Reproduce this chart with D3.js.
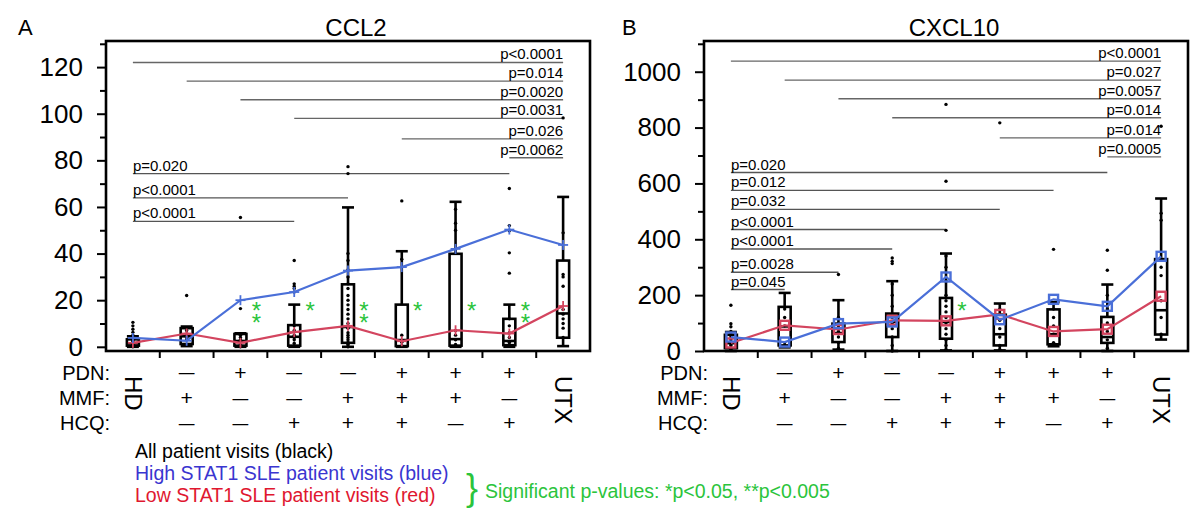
<!DOCTYPE html>
<html><head><meta charset="utf-8">
<script src="https://cdn.jsdelivr.net/npm/d3@7"></script>
<style>
body{margin:0;background:#fff;}
svg{display:block;font-family:Arial,"Liberation Sans",sans-serif;}
</style>
</head><body>
<svg id="chart" width="1200" height="517"></svg>
<script>
// ---------- data ----------
const categories = ["HD","MMF","PDN","HCQ","MMF+HCQ","PDN+MMF+HCQ","PDN+MMF","PDN+HCQ","UTX"];
const rotatedLabels = {"HD":"HD","UTX":"UTX"};
const pdnSigns = ["", "−", "+", "−", "−", "+", "+", "+", ""];
const mmfSigns = ["", "+", "−", "−", "+", "+", "+", "−", ""];
const hcqSigns = ["", "−", "−", "+", "+", "+", "−", "+", ""];
const rowLabels = ["PDN:", "MMF:", "HCQ:"];

// CCL2 : box stats [whiskerLow, q1, median, q3, whiskerHigh]
const ccl2Box = [
  [0, 0.5, 1.5, 3.2, 4.5],
  [0.3, 1.2, 4.5, 8, 8.7],
  [0, 0.5, 2.5, 5.5, 5.8],
  [0, 0.5, 4.3, 9.3, 18.1],
  [0, 1.7, 8.5, 26.8, 59.8],
  [0, 0.3, 2.9, 18.1, 41],
  [0, 0.5, 3.3, 39.9, 62.2],
  [0, 0.7, 2.5, 12, 18.1],
  [0.3, 3.9, 14.3, 37, 64.3]
];
const ccl2Points = [
  [10.5, 9, 7.5, 6.2, 5, 4, 3, 2.5, 2, 1.5, 1, 0.5, 0.2, 0],
  [22, 8, 7, 5.5, 4, 3, 1],
  [55.5, 16.4, 5, 4, 3, 2, 1, 0.5, 0],
  [37, 27, 26, 25, 23.5, 9, 7, 5, 4, 3, 1.5, 0.5],
  [77.3, 74.3, 40, 37, 33, 30, 27, 25, 22, 20, 18, 16, 14, 12, 10, 8, 6, 5, 4, 3, 2, 1, 0],
  [62.6, 37.6, 5, 2, 0.5],
  [59, 53, 50, 7, 5, 3, 1],
  [67.9, 52, 49.8, 40.3, 31.6, 12, 9, 6, 4, 2, 1, 0.5],
  [98.2, 48.9, 31, 30, 26, 16, 14, 12, 10, 8, 4]
];
const ccl2High = [3.8, 2.6, 20, 23.5, 32.7, 34.2, 42, 50.3, 43.7];
const ccl2Low  = [1.7, 5.7, 1.7, 6.3, 9, 2.4, 7.1, 5.7, 17.5];
const ccl2TopPairs = [[0, "p<0.0001", 122], [1, "p=0.014", 114], [2, "p=0.0020", 106], [3, "p=0.0031", 98], [5, "p=0.026", 89.2], [7, "p=0.0062", 81.1]];
const ccl2HdPairs  = [[7, "p=0.020", 74.3], [4, "p<0.0001", 63.9], [3, "p<0.0001", 53.8]];
const ccl2Stars = [[2, "**"], [3, "*"], [4, "**"], [5, "*"], [6, "*"], [7, "**"]];
const ccl2MajorTicks = [0, 20, 40, 60, 80, 100, 120];
const ccl2MinorTicks = [10, 30, 50, 70, 90, 110, 130];

// CXCL10
const cxcl10Box = [
  [0, 10, 28, 58, 68],
  [13, 20, 88, 158, 208],
  [5, 32, 64, 98, 182],
  [0, 50, 104, 134, 250],
  [2, 44, 104, 190, 349],
  [2, 20, 60, 130, 170],
  [17, 24, 60, 149, 175],
  [0, 29, 50, 122, 238],
  [41, 59, 146, 329, 546]
];
const cxcl10Points = [
  [164, 98, 87, 70, 60, 50, 40, 30, 25, 20, 10, 5],
  [150, 120, 90, 30, 20],
  [274, 120, 90, 70, 50, 30, 10],
  [333, 321, 313, 240, 200, 160, 120, 100, 80, 50, 20, 0],
  [883, 608, 432, 340, 300, 250, 200, 180, 160, 140, 120, 100, 80, 60, 40, 20, 5],
  [817, 150, 110, 80, 50, 20, 5],
  [364, 150, 120, 90, 60, 30],
  [361, 289, 200, 150, 100, 70, 40, 10],
  [805, 493, 468, 300, 270, 180, 120, 60]
];
const cxcl10High = [50, 32, 98, 104, 265, 112, 185, 160, 339];
const cxcl10Low  = [28.7, 92, 77, 110, 108, 131, 70, 78, 196];
const cxcl10TopPairs = [[0, "p<0.0001", 1038], [1, "p=0.027", 970], [2, "p=0.0057", 903], [3, "p=0.014", 835], [5, "p=0.014", 763], [7, "p=0.0005", 695]];
const cxcl10HdPairs  = [[7, "p=0.020", 639], [6, "p=0.012", 575], [5, "p=0.032", 507], [4, "p<0.0001", 435], [3, "p<0.0001", 365], [2, "p=0.0028", 282], [1, "p=0.045", 220]];
const cxcl10Stars = [[4, "*"]];
const cxcl10MajorTicks = [0, 200, 400, 600, 800, 1000];
const cxcl10MinorTicks = [100, 300, 500, 700, 900, 1100];

const legendLines = ["All patient visits (black)", "High STAT1 SLE patient visits (blue)", "Low STAT1 SLE patient visits (red)"];
const legendNote = "Significant p-values: *p<0.05, **p<0.005";

// ---------- styles ----------
const BLUE = "#4a6fd8", RED = "#d3455f", GREEN = "#2bc43c";

const svg = d3.select("#chart");

function drawPanel(o) {
  const g = svg.append("g");
  const x = d3.scaleBand().domain(categories).range([o.left, o.right]);
  const y = d3.scaleLinear().domain(o.domain).range([o.bottom, o.top]);
  const cx = i => x(categories[i]) + x.bandwidth() / 2;

  // panel letter and title
  g.append("text").attr("x", o.letterX).attr("y", 35).attr("font-size", 22).text(o.letter);
  g.append("text").attr("x", (o.left + o.right) / 2 + 8).attr("y", 36).attr("text-anchor", "middle")
    .attr("font-size", 24).text(o.title);

  // y axis
  const ya = g.append("g").attr("transform", `translate(${o.left},0)`)
    .call(d3.axisLeft(y).tickValues(o.major).tickSize(9).tickPadding(14).tickFormat(d3.format("d")));
  ya.select(".domain").remove();
  ya.selectAll("line").attr("stroke-width", 2);
  ya.selectAll("text").attr("font-size", 26).attr("font-family", "Arial, 'Liberation Sans', sans-serif");
  const ym = g.append("g").attr("transform", `translate(${o.left},0)`)
    .call(d3.axisLeft(y).tickValues(o.minor).tickSize(6).tickFormat(""));
  ym.select(".domain").remove();
  ym.selectAll("line").attr("stroke-width", 2);

  // x ticks between categories
  g.selectAll(".xt").data(categories.slice(1)).enter().append("line")
    .attr("x1", d => x(d)).attr("x2", d => x(d))
    .attr("y1", o.bottom).attr("y2", o.bottom + 7)
    .attr("stroke", "#000").attr("stroke-width", 2);

  // brackets
  const br = g.append("g");
  o.topPairs.forEach(([from, lab, lv]) => {
    br.append("line").attr("x1", cx(from)).attr("x2", cx(8)).attr("y1", y(lv)).attr("y2", y(lv))
      .attr("stroke", "#666").attr("stroke-width", 1.4);
    br.append("text").attr("x", cx(8)).attr("y", y(lv) - 3).attr("text-anchor", "end")
      .attr("font-size", 15).text(lab);
  });
  o.hdPairs.forEach(([to, lab, lv]) => {
    br.append("line").attr("x1", cx(0)).attr("x2", cx(to)).attr("y1", y(lv)).attr("y2", y(lv))
      .attr("stroke", "#555").attr("stroke-width", 1.4);
    br.append("text").attr("x", cx(0)).attr("y", y(lv) - 3).attr("text-anchor", "start")
      .attr("font-size", 15).text(lab);
  });

  // boxes
  const bw = 12;
  const bx = g.append("g").attr("stroke", "#000").attr("stroke-width", 2.6).attr("fill", "none");
  o.box.forEach((b, i) => {
    const c = cx(i);
    bx.append("line").attr("x1", c).attr("x2", c).attr("y1", y(b[0])).attr("y2", y(b[1]));
    bx.append("line").attr("x1", c).attr("x2", c).attr("y1", y(b[3])).attr("y2", y(b[4]));
    bx.append("line").attr("x1", c - bw / 2).attr("x2", c + bw / 2).attr("y1", y(b[0])).attr("y2", y(b[0]));
    bx.append("line").attr("x1", c - bw / 2).attr("x2", c + bw / 2).attr("y1", y(b[4])).attr("y2", y(b[4]));
    bx.append("rect").attr("x", c - bw / 2).attr("width", bw).attr("y", y(b[3])).attr("height", Math.max(1, y(b[1]) - y(b[3])));
    bx.append("line").attr("x1", c - bw / 2).attr("x2", c + bw / 2).attr("y1", y(b[2])).attr("y2", y(b[2]));
  });

  // points
  o.points.forEach((arr, i) => {
    g.selectAll(null).data(arr).enter().append("circle")
      .attr("cx", cx(i)).attr("cy", d => y(d)).attr("r", 1.7).attr("fill", "#000");
  });

  // series lines
  const line = d3.line().x((d, i) => cx(i)).y(d => y(d));
  [[o.low, RED], [o.high, BLUE]].forEach(([s, col]) => {
    g.append("path").datum(s).attr("d", line).attr("fill", "none").attr("stroke", col).attr("stroke-width", 2.2);
    s.forEach((v, i) => {
      if (o.marker === "square") {
        g.append("rect").attr("x", cx(i) - 4.5).attr("y", y(v) - 4.5).attr("width", 9).attr("height", 9)
          .attr("fill", "none").attr("stroke", col).attr("stroke-width", 2.4);
      } else {
        g.append("line").attr("x1", cx(i)).attr("x2", cx(i)).attr("y1", y(v) - 5).attr("y2", y(v) + 5)
          .attr("stroke", col).attr("stroke-width", 1.8);
        g.append("line").attr("x1", cx(i) - 5).attr("x2", cx(i) + 5).attr("y1", y(v)).attr("y2", y(v))
          .attr("stroke", col).attr("stroke-width", 1.8);
      }
    });
  });

  // significance stars (stacked in a single text element)
  o.stars.forEach(([i, s]) => {
    const t = g.append("text").attr("text-anchor", "middle").attr("font-size", 24).attr("fill", GREEN);
    s.split("").forEach((ch, k) => {
      t.append("tspan").attr("x", cx(i) + 16).attr("y", y(o.starLevel) + k * 12 + 13).text(ch);
    });
  });

  // frame
  g.append("rect").attr("x", o.left).attr("y", o.top).attr("width", o.right - o.left).attr("height", o.bottom - o.top)
    .attr("fill", "none").attr("stroke", "#000").attr("stroke-width", 2.6);

  // treatment rows
  const rowsY = [379.5, 405, 430];
  rowLabels.forEach((lab, r) => {
    g.append("text").attr("x", o.left + 4).attr("y", rowsY[r]).attr("text-anchor", "end")
      .attr("font-size", 20).text(lab);
  });
  [pdnSigns, mmfSigns, hcqSigns].forEach((signs, r) => {
    signs.forEach((s, i) => {
      if (!s) return;
      g.append("text").attr("x", cx(i)).attr("y", rowsY[r]).attr("text-anchor", "middle")
        .attr("font-size", 21).text(s === "−" ? "—" : s)
        .attr("transform", s === "−" ? `translate(${cx(i)},${rowsY[r]}) scale(0.75,1) translate(${-cx(i)},${-rowsY[r]})` : null);
    });
  });
  categories.forEach((c, i) => {
    if (!rotatedLabels[c]) return;
    g.append("text").attr("transform", `translate(${cx(i) + 1},376) rotate(90)`)
      .attr("dy", "0.36em").attr("font-size", 24).text(rotatedLabels[c]);
  });
}

drawPanel({
  letter: "A", letterX: 18, title: "CCL2", left: 106, right: 590, top: 41, bottom: 351,
  domain: [-1.8, 131.2], major: ccl2MajorTicks, minor: ccl2MinorTicks,
  box: ccl2Box, points: ccl2Points, high: ccl2High, low: ccl2Low,
  topPairs: ccl2TopPairs, hdPairs: ccl2HdPairs, stars: ccl2Stars, starLevel: 17.5, marker: "cross"
});
drawPanel({
  letter: "B", letterX: 622, title: "CXCL10", left: 704, right: 1188, top: 41, bottom: 351,
  domain: [0, 1110], major: cxcl10MajorTicks, minor: cxcl10MinorTicks,
  box: cxcl10Box, points: cxcl10Points, high: cxcl10High, low: cxcl10Low,
  topPairs: cxcl10TopPairs, hdPairs: cxcl10HdPairs, stars: cxcl10Stars, starLevel: 161, marker: "square"
});

// legend
const legColors = ["#000", "#3a35d0", "#e0172f"];
legendLines.forEach((t, i) => {
  svg.append("text").attr("x", 135).attr("y", 457.5 + i * 22).attr("font-size", 19.5)
    .attr("fill", legColors[i]).text(t);
});
svg.append("text").attr("x", 466).attr("y", 500).attr("font-size", 36).attr("fill", GREEN).text("}");
svg.append("text").attr("x", 485).attr("y", 498).attr("font-size", 19.5).attr("fill", GREEN).text(legendNote);
</script>
</body></html>
